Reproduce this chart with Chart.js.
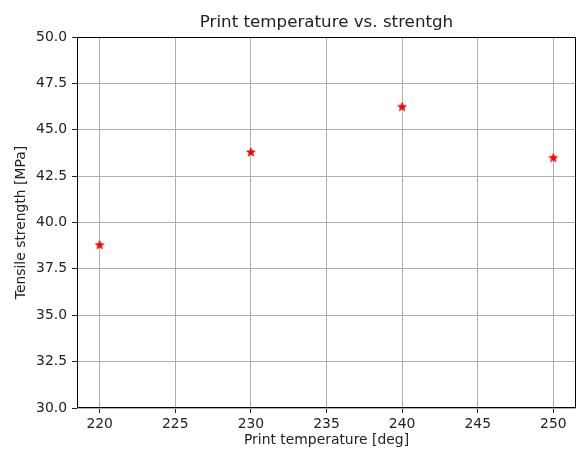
<!DOCTYPE html>
<html>
<head>
<meta charset="utf-8">
<script src="https://cdn.jsdelivr.net/npm/chart.js@4"></script>
<style>
  html, body { margin: 0; padding: 0; background: #fff; }
  #wrap { width: 582px; height: 451px; }
</style>
</head>
<body>
<div id="wrap"><canvas id="myChart" width="582" height="451"></canvas></div>
<script>
var temps = [220, 230, 240, 250];
var strengths = [38.8, 43.8, 46.25, 43.5];
var xTicks = [220, 225, 230, 235, 240, 245, 250];
var yTicks = [30.0, 32.5, 35.0, 37.5, 40.0, 42.5, 45.0, 47.5, 50.0];

// filled star like matplotlib '*'
function makeStar(size) {
    var c = document.createElement('canvas');
    c.width = size; c.height = size;
    var g = c.getContext('2d');
    var cx = size / 2, cy = size / 2 + 0.4, R = size / 2 - 0.5, r = R * 0.42;
    g.beginPath();
    for (var i = 0; i < 10; i++) {
        var a = -Math.PI / 2 + i * Math.PI / 5;
        var rr = i % 2 === 0 ? R : r;
        g.lineTo(cx + rr * Math.cos(a), cy + rr * Math.sin(a));
    }
    g.closePath();
    g.fillStyle = '#ff0000';
    g.fill();
    g.strokeStyle = '#ee0000';
    g.lineWidth = 0.8;
    g.stroke();
    return c;
}

// black box round the plot area
var frame = {
    id: 'frame',
    afterDraw: function (chart) {
        var a = chart.chartArea, ctx = chart.ctx;
        ctx.save();
        ctx.strokeStyle = '#000';
        ctx.lineWidth = 1;
        ctx.strokeRect(Math.round(a.left) + 0.5, Math.round(a.top) + 0.5,
            Math.round(a.right - a.left) - 1, Math.round(a.bottom - a.top) - 1);
        ctx.restore();
    }
};

var ctx = document.getElementById('myChart').getContext('2d');
var font = "'DejaVu Sans', sans-serif";

window.myChart = new Chart(ctx, {
    type: 'scatter',
    data: {
        datasets: [{
            data: temps.map(function (t, i) { return { x: t, y: strengths[i] }; }),
            pointStyle: makeStar(10),
            pointRadius: 5,
            backgroundColor: '#ff0000',
            borderColor: '#ff0000'
        }]
    },
    options: {
        responsive: false,
        animation: false,
        layout: { padding: { left: 0, right: 3, top: 0, bottom: 0 } },
        plugins: {
            legend: { display: false },
            tooltip: { enabled: false },
            title: {
                display: true,
                fullSize: false,
                text: 'Print temperature vs. strentgh',
                color: '#222',
                font: { family: font, size: 16.7, weight: 'normal' },
                padding: { top: 13, bottom: 4 }
            }
        },
        scales: {
            x: {
                type: 'linear',
                min: 218.5,
                max: 251.5,
                afterBuildTicks: function (s) { s.ticks = xTicks.map(function (v) { return { value: v }; }); },
                afterFit: function (s) { s.height = 43; },
                grid: { color: '#b0b0b0', tickColor: '#222', tickLength: 5 },
                border: { display: false },
                ticks: { color: '#222', font: { family: font, size: 13.9 }, padding: 3, maxRotation: 0 },
                title: {
                    display: true,
                    text: 'Print temperature [deg]',
                    color: '#222',
                    font: { family: font, size: 13.9 },
                    padding: { top: 0, bottom: 2 }
                }
            },
            y: {
                type: 'linear',
                min: 30,
                max: 50,
                afterBuildTicks: function (s) { s.ticks = yTicks.map(function (v) { return { value: v }; }); },
                afterFit: function (s) { s.width = 77; },
                grid: { color: '#b0b0b0', tickColor: '#222', tickLength: 5 },
                border: { display: false },
                ticks: {
                    color: '#222',
                    font: { family: font, size: 13.9 },
                    padding: 5,
                    callback: function (v) { return v.toFixed(1); }
                },
                title: {
                    display: true,
                    text: 'Tensile strength [MPa]',
                    color: '#222',
                    font: { family: font, size: 13.9 },
                    padding: { top: 13, bottom: 0 }
                }
            }
        }
    },
    plugins: [frame]
});
</script>
</body>
</html>
